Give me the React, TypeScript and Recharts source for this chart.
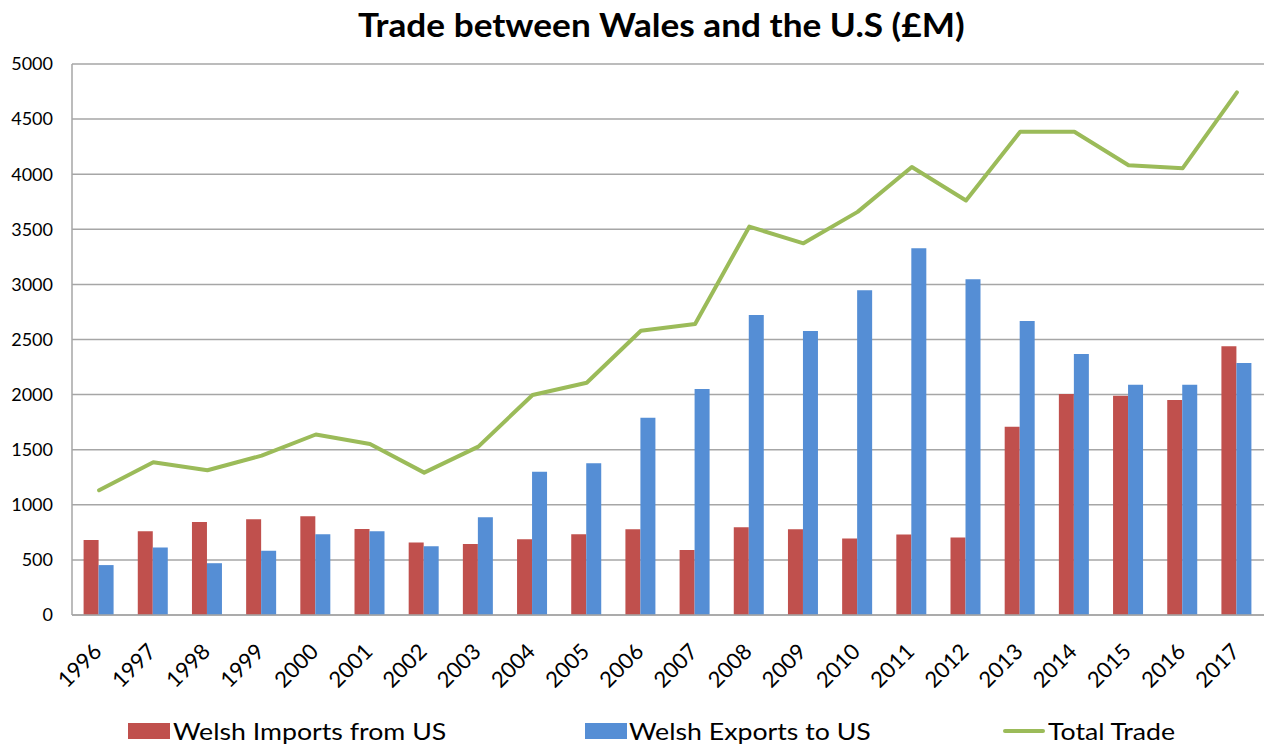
import React from 'react';
import {
  ComposedChart, Bar, Line, XAxis, YAxis, CartesianGrid, Legend,
} from 'recharts';

const years = ['1996', '1997', '1998', '1999', '2000', '2001', '2002', '2003', '2004', '2005', '2006',
  '2007', '2008', '2009', '2010', '2011', '2012', '2013', '2014', '2015', '2016', '2017'];
const imports = [680, 760, 843, 868, 895, 780, 659, 644, 687, 732, 777, 590, 796, 777, 695, 730, 704, 1709, 2006, 1989, 1950, 2439];
const exportsUS = [453, 613, 470, 582, 732, 760, 623, 886, 1301, 1376, 1791, 2051, 2722, 2577, 2948, 3328, 3047, 2667, 2369, 2089, 2089, 2287];
const totalTrade = [1132, 1387, 1314, 1446, 1638, 1551, 1292, 1528, 1997, 2108, 2580, 2641, 3524, 3373, 3658, 4065, 3761, 4385, 4385, 4081, 4055, 4742];
const yTicks = [0, 500, 1000, 1500, 2000, 2500, 3000, 3500, 4000, 4500, 5000];

const RED = '#C0504D';
const BLUE = '#558ED5';
const GREEN = '#9BBB59';
const GRID = '#A6A6A6';
const FONT = 'Lato, "Open Sans", sans-serif';

const data = years.map((year, i) => ({
  year,
  imports: imports[i],
  exports: exportsUS[i],
  total: totalTrade[i],
}));

const YearTick = (props: any) => {
  const { x, y, payload } = props;
  const tx = x + 4;
  const ty = y + 38;
  return (
    <text x={tx} y={ty} transform={`rotate(-45, ${tx}, ${ty})`} textAnchor="end"
      fontSize={22} fill="#000" fontFamily={FONT}>
      {payload.value}
    </text>
  );
};

// legend text in the original is a bit wider than Lato, so stretch it
const legendText: React.CSSProperties = {
  position: 'absolute', top: 0, lineHeight: '30px', whiteSpace: 'nowrap',
  transform: 'scaleX(1.16)', transformOrigin: 'left center',
};

const renderLegend = () => (
  <div style={{ position: 'relative', width: 1267, height: 30, fontFamily: FONT, fontSize: 23, color: '#000' }}>
    <span style={{ position: 'absolute', left: 128, top: 7, width: 42, height: 16, background: RED }} />
    <span style={{ ...legendText, left: 173 }}>Welsh Imports from US</span>
    <span style={{ position: 'absolute', left: 585, top: 7, width: 42, height: 16, background: BLUE }} />
    <span style={{ ...legendText, left: 629 }}>Welsh Exports to US</span>
    <span style={{ position: 'absolute', left: 1003, top: 13, width: 42, height: 4, background: GREEN, borderRadius: 2 }} />
    <span style={{ ...legendText, left: 1048 }}>Total Trade</span>
  </div>
);

export default function App() {
  return (
    <div style={{ position: 'absolute', left: 0, top: 0, width: 1267, height: 745, background: '#fff', fontFamily: FONT }}>
      <div style={{
        position: 'absolute', left: 358, top: 5, whiteSpace: 'nowrap',
        fontSize: 32, fontWeight: 700, lineHeight: '40px', color: '#000',
        transform: 'scaleX(1.1)', transformOrigin: 'left center',
      }}>
        Trade between Wales and the U.S (£M)
      </div>
      <ComposedChart
        width={1267}
        height={745}
        data={data}
        margin={{ top: 64, right: 3, bottom: 30, left: 0 }}
        barCategoryGap="21.4%"
        barGap={0}
      >
        <CartesianGrid vertical={false} stroke={GRID} strokeWidth={1.5} />
        <XAxis
          dataKey="year"
          interval={0}
          tickLine={false}
          tickSize={0}
          tickMargin={0}
          axisLine={{ stroke: GRID, strokeWidth: 1.5 }}
          tick={<YearTick />}
          height={70}
        />
        <YAxis
          domain={[0, 5000]}
          ticks={yTicks}
          interval={0}
          width={72}
          tickLine={false}
          tickMargin={13}
          axisLine={{ stroke: GRID, strokeWidth: 1.5 }}
          tick={{ fill: '#000', fontSize: 18, fontFamily: FONT }}
        />
        <Bar dataKey="imports" name="Welsh Imports from US" fill={RED} isAnimationActive={false} />
        <Bar dataKey="exports" name="Welsh Exports to US" fill={BLUE} isAnimationActive={false} />
        <Line
          type="linear"
          dataKey="total"
          name="Total Trade"
          stroke={GREEN}
          strokeWidth={4}
          strokeLinecap="round"
          strokeLinejoin="round"
          dot={false}
          activeDot={false}
          isAnimationActive={false}
        />
        <Legend
          verticalAlign="bottom"
          content={renderLegend}
          wrapperStyle={{ left: 0, top: 716, width: 1267, height: 30 }}
        />
      </ComposedChart>
    </div>
  );
}
